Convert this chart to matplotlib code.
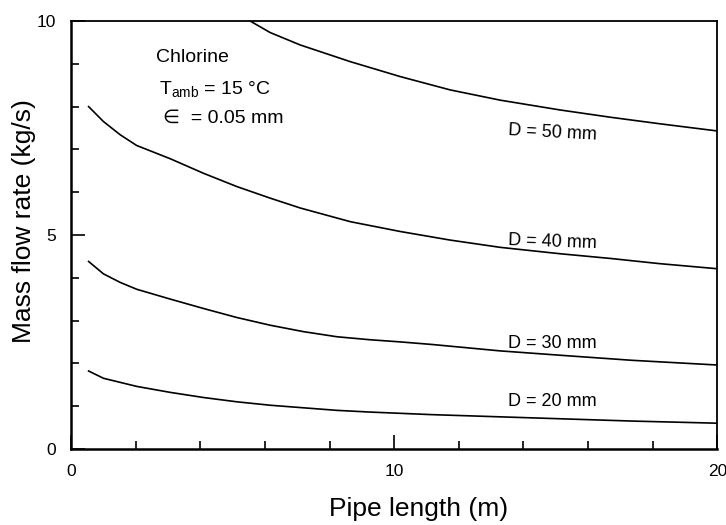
import matplotlib
matplotlib.use("Agg")
import matplotlib.pyplot as plt
from matplotlib.ticker import MultipleLocator

plt.rcParams['font.family'] = ['Liberation Sans', 'DejaVu Sans']
plt.rcParams['mathtext.fontset'] = 'custom'
plt.rcParams['mathtext.rm'] = 'Liberation Sans'

# values (pipe length in m, mass flow in kg/s)
x_d20 = [0.54, 1.0, 2.03, 3.07, 4.10, 5.13, 6.16, 7.19, 8.23, 9.26, 11.17, 13.23, 15.29, 17.36, 20.0]
m_d20 = [1.82, 1.65, 1.46, 1.32, 1.20, 1.10, 1.02, 0.96, 0.90, 0.86, 0.80, 0.75, 0.70, 0.65, 0.60]

x_d30 = [0.54, 1.0, 1.52, 2.03, 3.07, 4.10, 5.13, 6.16, 7.19, 8.23, 9.26, 10.19, 11.17, 13.28, 15.29, 17.36, 20.0]
m_d30 = [4.38, 4.09, 3.89, 3.73, 3.50, 3.28, 3.07, 2.89, 2.74, 2.62, 2.55, 2.50, 2.44, 2.29, 2.18, 2.07, 1.96]

x_d40 = [0.54, 1.0, 1.52, 2.03, 3.07, 4.10, 5.13, 6.16, 7.09, 8.64, 10.19, 11.73, 13.28, 15.14, 16.7, 18.2, 20.0]
m_d40 = [8.0, 7.65, 7.34, 7.09, 6.78, 6.44, 6.13, 5.86, 5.63, 5.31, 5.08, 4.88, 4.71, 4.56, 4.45, 4.33, 4.21]

x_d50 = [5.54, 6.16, 7.09, 8.64, 10.19, 11.73, 13.28, 15.14, 16.7, 18.2, 20.0]
m_d50 = [10.0, 9.73, 9.44, 9.05, 8.70, 8.39, 8.15, 7.92, 7.75, 7.60, 7.43]

labels = ['D = 20 mm', 'D = 30 mm', 'D = 40 mm', 'D = 50 mm']
label_x = [14.9, 14.9, 14.9, 14.9]
label_y = [1.11, 2.47, 4.84, 7.38]
label_rot = [0, 0, -2, -3]

fig = plt.figure(figsize=(7.26, 5.25), dpi=100)
ax = fig.add_axes([0.098, 0.145, 0.89, 0.815])

for xs, ys in [(x_d20, m_d20), (x_d30, m_d30), (x_d40, m_d40), (x_d50, m_d50)]:
    ax.plot(xs, ys, color='black', lw=1.2)

for t, lx, ly, r in zip(labels, label_x, label_y, label_rot):
    ax.text(lx, ly, t, ha='center', va='center', fontsize=13, rotation=r)

ax.text(2.63, 9.14, 'Chlorine', fontsize=14, va='center')
ax.text(2.72, 8.40, r'$\mathregular{T_{amb}}$ = 15 °C', fontsize=14, va='center')
ax.text(2.85, 7.73, '∈  = 0.05 mm', fontsize=14, va='center')

ax.set_xlim(0, 20)
ax.set_ylim(0, 10)
ax.set_xticks([0, 10, 20])
ax.set_yticks([0, 5, 10])
ax.xaxis.set_minor_locator(MultipleLocator(2))
ax.yaxis.set_minor_locator(MultipleLocator(1))
ax.tick_params(which='both', direction='in', top=False, right=False, labelsize=12.5, width=1.2)
ax.tick_params(which='major', length=10)
ax.tick_params(which='minor', length=6)
ax.tick_params(axis='x', pad=11)
ax.tick_params(axis='y', pad=11)

for s in ['left', 'bottom']:
    ax.spines[s].set_linewidth(1.8)
for s in ['top', 'right']:
    ax.spines[s].set_linewidth(1.3)

ax.set_xlabel('Pipe length (m)', fontsize=19)
ax.set_ylabel('Mass flow rate (kg/s)', fontsize=19)
ax.xaxis.set_label_coords(0.537, -0.112)
ax.yaxis.set_label_coords(-0.054, 0.533)

fig.savefig('out.png', dpi=100)
